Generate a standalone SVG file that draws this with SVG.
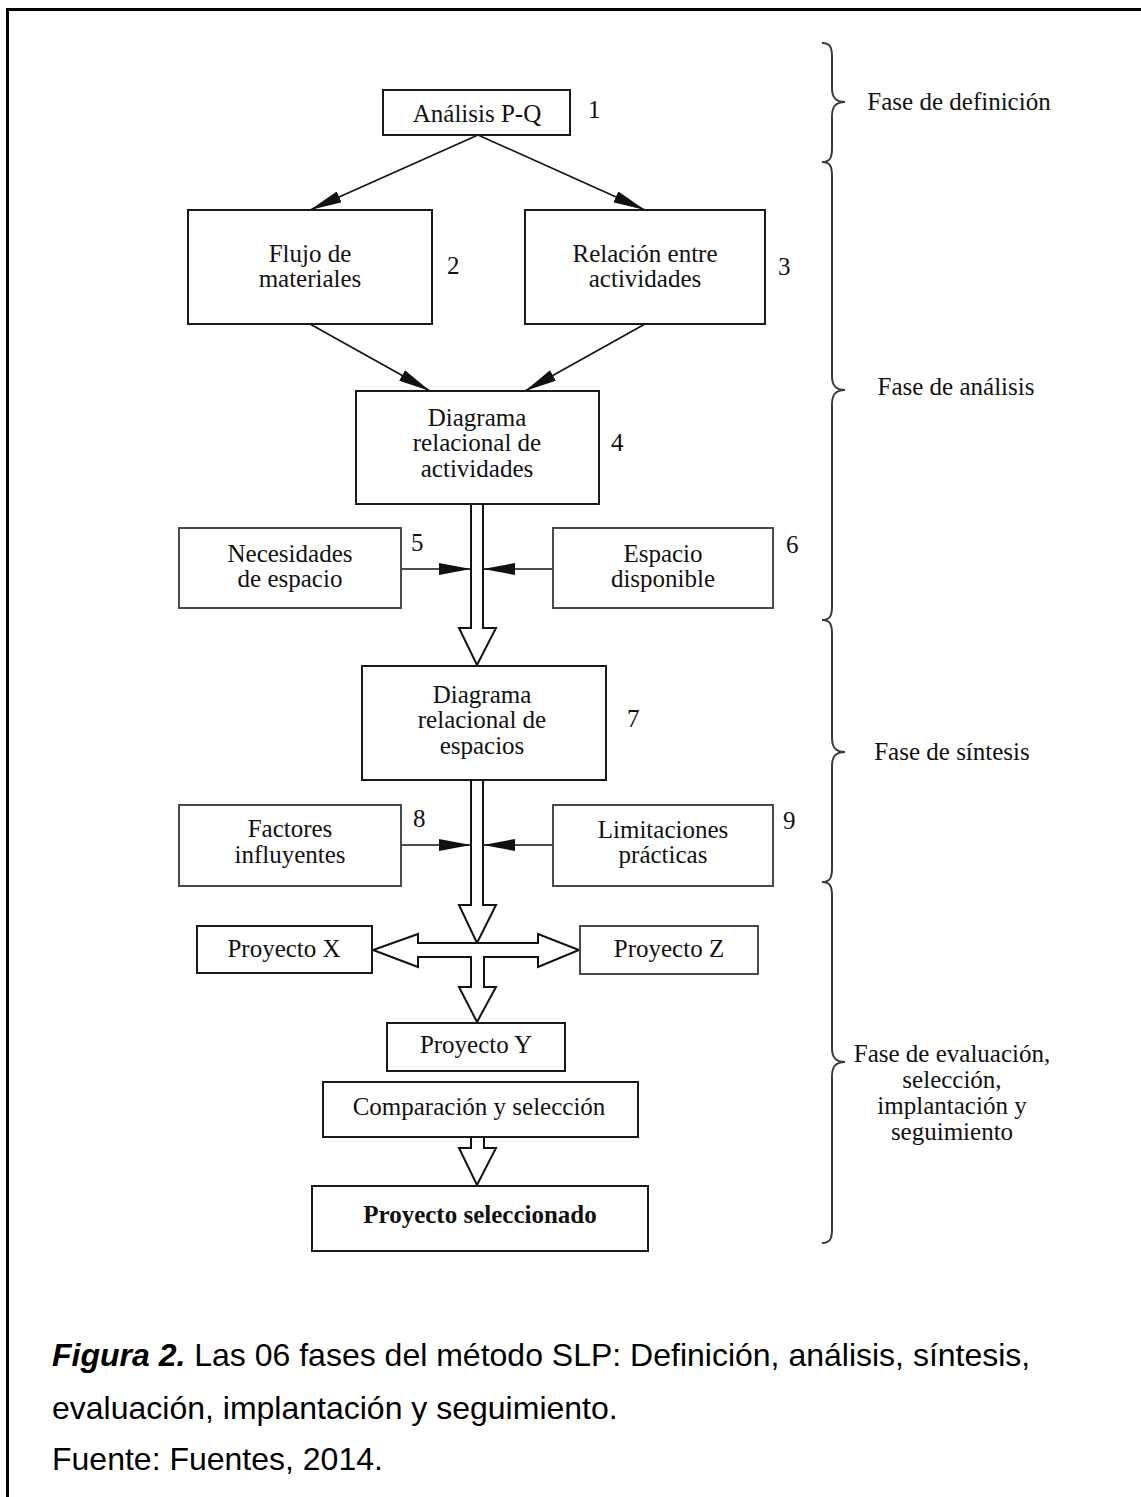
<svg xmlns="http://www.w3.org/2000/svg" width="1141" height="1497" viewBox="0 0 1141 1497">
  <defs>
    <marker id="head" markerUnits="userSpaceOnUse" viewBox="0 0 32 12" markerWidth="32" markerHeight="12" refX="32" refY="6" orient="auto">
      <path d="M0,0 L32,6 L0,12 Z" fill="#111"/>
    </marker>
  </defs>
  <style>
    .box { fill: #fff; stroke: #1a1a1a; stroke-width: 2; }
    .side { fill: #fff; stroke: #4a4a4a; stroke-width: 2; }
    .t { font-family: "Liberation Serif", "Times New Roman", serif; font-size: 25px; fill: #111; }
    .c { text-anchor: middle; }
    .b { font-weight: bold; }
    .arrow { stroke: #111; stroke-width: 1.6; fill: none; marker-end: url(#head); }
    .hollow { fill: #fff; stroke: #111; stroke-width: 2; stroke-linejoin: miter; }
    .brace { fill: none; stroke: #3a3a3a; stroke-width: 2; }
    .cap { font-family: "Liberation Sans", Arial, sans-serif; font-size: 32px; fill: #000; }
  </style>

  <rect width="1141" height="1497" fill="#fff"/>
  <!-- page frame -->
  <path d="M7.5,1497 V9.5 H1141" fill="none" stroke="#000" stroke-width="3"/>

  <!-- connectors -->
  <g id="connectors">
    <line class="arrow" x1="478" y1="135" x2="310" y2="210"/>
    <line class="arrow" x1="478" y1="135" x2="645" y2="210"/>
    <line class="arrow" x1="310" y1="324" x2="430" y2="391"/>
    <line class="arrow" x1="645" y1="324" x2="525" y2="391"/>
    <!-- block arrow 4 -> 7 -->
    <path class="hollow" d="M471,504 V628 H459 L477,665 L496,628 H483 V504"/>
    <line class="arrow" x1="401" y1="569" x2="471" y2="569"/>
    <line class="arrow" x1="553" y1="569" x2="483" y2="569"/>
    <!-- block arrow 7 -> cross -->
    <path class="hollow" d="M471,780 V905 H459 L477,943 L496,905 H483 V780"/>
    <line class="arrow" x1="401" y1="845" x2="471" y2="845"/>
    <line class="arrow" x1="553" y1="845" x2="483" y2="845"/>
    <!-- three-way block arrow to the projects -->
    <path class="hollow" d="M538,943 H418 V934 L373,950 L418,967 V957 H471 V987 H459 L477,1022 L496,987 H484 V957 H538 V967 L579,950 L538,934 Z"/>
    <!-- block arrow comparison -> selected -->
    <path class="hollow" d="M471,1137 V1148 H459 L477,1185 L496,1148 H484 V1137"/>
  </g>

  <g id="n1">
    <rect class="box" x="383" y="90" width="187" height="45"/>
    <text class="t c" x="477" y="122">Análisis P-Q</text>
    <text class="t" x="588" y="118">1</text>
  </g>
  <g id="n2">
    <rect class="box" x="188" y="210" width="244" height="114"/>
    <text class="t c" x="310" y="262">Flujo de</text>
    <text class="t c" x="310" y="287">materiales</text>
    <text class="t" x="447" y="274">2</text>
  </g>
  <g id="n3">
    <rect class="box" x="525" y="210" width="240" height="114"/>
    <text class="t c" x="645" y="262">Relación entre</text>
    <text class="t c" x="645" y="287">actividades</text>
    <text class="t" x="778" y="275">3</text>
  </g>
  <g id="n4">
    <rect class="box" x="356" y="391" width="243" height="113"/>
    <text class="t c" x="477" y="426">Diagrama</text>
    <text class="t c" x="477" y="451">relacional de</text>
    <text class="t c" x="477" y="477">actividades</text>
    <text class="t" x="611" y="451">4</text>
  </g>
  <g id="n5">
    <rect class="side" x="179" y="528" width="222" height="80"/>
    <text class="t c" x="290" y="562">Necesidades</text>
    <text class="t c" x="290" y="587">de espacio</text>
    <text class="t" x="411" y="551">5</text>
  </g>
  <g id="n6">
    <rect class="side" x="553" y="528" width="220" height="80"/>
    <text class="t c" x="663" y="562">Espacio</text>
    <text class="t c" x="663" y="587">disponible</text>
    <text class="t" x="786" y="553">6</text>
  </g>
  <g id="n7">
    <rect class="box" x="362" y="666" width="244" height="114"/>
    <text class="t c" x="482" y="703">Diagrama</text>
    <text class="t c" x="482" y="728">relacional de</text>
    <text class="t c" x="482" y="754">espacios</text>
    <text class="t" x="627" y="727">7</text>
  </g>
  <g id="n8">
    <rect class="side" x="179" y="805" width="222" height="81"/>
    <text class="t c" x="290" y="837">Factores</text>
    <text class="t c" x="290" y="863">influyentes</text>
    <text class="t" x="413" y="827">8</text>
  </g>
  <g id="n9">
    <rect class="side" x="553" y="805" width="220" height="81"/>
    <text class="t c" x="663" y="838">Limitaciones</text>
    <text class="t c" x="663" y="863">prácticas</text>
    <text class="t" x="783" y="829">9</text>
  </g>
  <g id="nX">
    <rect class="box" x="197" y="926" width="175" height="47"/>
    <text class="t c" x="284" y="957">Proyecto X</text>
  </g>
  <g id="nZ">
    <rect class="side" x="580" y="926" width="178" height="48"/>
    <text class="t c" x="669" y="957">Proyecto Z</text>
  </g>
  <g id="nY">
    <rect class="box" x="387" y="1023" width="178" height="48"/>
    <text class="t c" x="476" y="1053">Proyecto Y</text>
  </g>
  <g id="nC">
    <rect class="box" x="323" y="1082" width="315" height="55"/>
    <text class="t c" x="479" y="1115">Comparación y selección</text>
  </g>
  <g id="nS">
    <rect class="box" x="312" y="1186" width="336" height="65"/>
    <text class="t c b" x="480" y="1223">Proyecto seleccionado</text>
  </g>

  <!-- phase braces -->
  <g id="phases">
    <path class="brace" d="M822,43 C830,43 832,47 832,57 V88 C832,98 836,102 845,102 C836,102 832,106 832,116 V148 C832,158 830,162 822,162"/>
    <path class="brace" d="M822,162 C830,162 832,166 832,176 V376 C832,386 836,390 845,390 C836,390 832,394 832,404 V606 C832,616 830,620 822,620"/>
    <path class="brace" d="M822,620 C830,620 832,624 832,634 V738 C832,748 836,752 845,752 C836,752 832,756 832,766 V868 C832,878 830,882 822,882"/>
    <path class="brace" d="M822,882 C830,882 832,886 832,896 V1048 C832,1058 836,1062 845,1062 C836,1062 832,1066 832,1076 V1229 C832,1239 830,1243 822,1243"/>
    <text class="t c" x="959" y="110">Fase de definición</text>
    <text class="t c" x="956" y="395">Fase de análisis</text>
    <text class="t c" x="952" y="760">Fase de síntesis</text>
    <text class="t c" x="952" y="1062">Fase de evaluación,</text>
    <text class="t c" x="952" y="1088">selección,</text>
    <text class="t c" x="952" y="1114">implantación y</text>
    <text class="t c" x="952" y="1140">seguimiento</text>
  </g>

  <!-- caption -->
  <g id="caption">
    <text class="cap" x="52" y="1366"><tspan font-weight="bold" font-style="italic">Figura 2.</tspan> Las 06 fases del método SLP: Definición, análisis, síntesis,</text>
    <text class="cap" x="52" y="1419">evaluación, implantación y seguimiento.</text>
    <text class="cap" x="52" y="1470">Fuente: Fuentes, 2014.</text>
  </g>
</svg>
